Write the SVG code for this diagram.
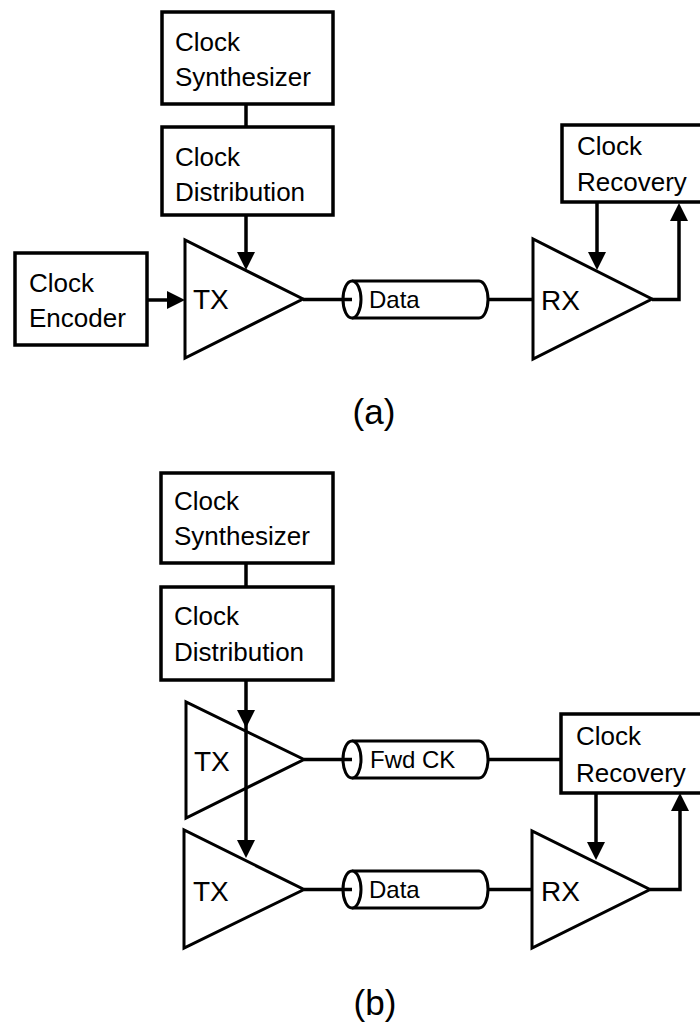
<svg xmlns="http://www.w3.org/2000/svg" width="700" height="1026" viewBox="0 0 700 1026">
<style>
.box{fill:#fff;stroke:#000;stroke-width:3.5}
.amp{fill:#fff;stroke:#000;stroke-width:3;stroke-linejoin:miter}
.ln{fill:none;stroke:#000;stroke-width:3.5}
.cab{fill:#fff;stroke:#000;stroke-width:3}
.t{font-family:"Liberation Sans",Arial,sans-serif;font-size:26px;fill:#000}
.big{font-family:"Liberation Sans",Arial,sans-serif;font-size:28px;fill:#000}
.c{font-family:"Liberation Sans",Arial,sans-serif;font-size:24px;fill:#000}
.lab{font-family:"Liberation Sans",Arial,sans-serif;font-size:35px;fill:#000;text-anchor:middle}
</style>
<defs>
<marker id="ah" markerWidth="18" markerHeight="18" refX="10" refY="9" orient="auto" markerUnits="userSpaceOnUse" viewBox="0 0 18 18"><path d="M0,0 L18,9 L0,18 z" fill="#000"/></marker>
</defs>
<rect width="700" height="1026" fill="#fff"/>

<!-- (a) -->
<g id="a_synth">
<rect class="box" x="162" y="12" width="171" height="92"/>
<text class="t" x="175" y="51">Clock</text>
<text class="t" x="175" y="86">Synthesizer</text>
</g>
<g id="a_dist">
<rect class="box" x="162" y="127" width="171" height="88"/>
<text class="t" x="175" y="166">Clock</text>
<text class="t" x="175" y="201">Distribution</text>
</g>
<g id="a_enc">
<rect class="box" x="15" y="253" width="132" height="92"/>
<text class="t" x="29" y="292">Clock</text>
<text class="t" x="29" y="327">Encoder</text>
</g>
<g id="a_tx">
<polygon class="amp" points="185,240 185,358 303,299"/>
<text class="big" x="193" y="309">TX</text>
</g>
<g id="a_data">
<path class="cab" d="M352,281 H479 A9,18.5 0 0 1 479,318 H352"/>
<ellipse class="cab" cx="352" cy="299.5" rx="9" ry="18.5"/>
<text class="c" x="369" y="308">Data</text>
</g>
<g id="a_rx">
<polygon class="amp" points="533,239 533,359 652,299"/>
<text class="big" x="541" y="310">RX</text>
</g>
<g id="a_rec">
<rect class="box" x="562" y="125" width="150" height="77"/>
<text class="t" x="577" y="155">Clock</text>
<text class="t" x="577" y="191">Recovery</text>
</g>
<text class="lab" x="374" y="424">(a)</text>

<!-- (b) -->
<g id="b_synth">
<rect class="box" x="161" y="473" width="172" height="90"/>
<text class="t" x="174" y="510">Clock</text>
<text class="t" x="174" y="545">Synthesizer</text>
</g>
<g id="b_dist">
<rect class="box" x="161" y="587" width="172" height="93"/>
<text class="t" x="174" y="625">Clock</text>
<text class="t" x="174" y="661">Distribution</text>
</g>
<g id="b_tx1">
<polygon class="amp" points="186,702 186,818 304,759.5"/>
<text class="big" x="194" y="771">TX</text>
</g>
<g id="b_tx2">
<polygon class="amp" points="184,830 184,948 304,889.5"/>
<text class="big" x="193" y="901">TX</text>
</g>
<g id="b_fwd">
<path class="cab" d="M352,741 H479 A9,18.5 0 0 1 479,778 H352"/>
<ellipse class="cab" cx="352" cy="759.5" rx="9" ry="18.5"/>
<text class="c" x="370" y="768">Fwd CK</text>
</g>
<g id="b_data">
<path class="cab" d="M352,871 H479 A9,18.5 0 0 1 479,908 H352"/>
<ellipse class="cab" cx="352" cy="889.5" rx="9" ry="18.5"/>
<text class="c" x="369" y="898">Data</text>
</g>
<g id="b_rec">
<rect class="box" x="561" y="714" width="150" height="79"/>
<text class="t" x="576" y="745">Clock</text>
<text class="t" x="576" y="782">Recovery</text>
</g>
<g id="b_rx">
<polygon class="amp" points="532,831 532,948 650,889.5"/>
<text class="big" x="541" y="901">RX</text>
</g>
<text class="lab" x="375" y="1015">(b)</text>

<g id="connectors">
<line class="ln" x1="246" y1="104" x2="246" y2="127"/>
<line class="ln" x1="246" y1="215" x2="246" y2="262" marker-end="url(#ah)"/>
<line class="ln" x1="147" y1="300" x2="177" y2="300" marker-end="url(#ah)"/>
<line class="ln" x1="303" y1="299.5" x2="352" y2="299.5"/>
<line class="ln" x1="488" y1="299.5" x2="533" y2="299.5"/>
<line class="ln" x1="597" y1="202" x2="597" y2="262" marker-end="url(#ah)"/>
<path class="ln" d="M652,299.5 H679 V211" marker-end="url(#ah)"/>

<line class="ln" x1="246" y1="563" x2="246" y2="587"/>
<line class="ln" x1="246" y1="680" x2="246" y2="720" marker-end="url(#ah)"/>
<line class="ln" x1="246" y1="715" x2="246" y2="850" marker-end="url(#ah)"/>
<line class="ln" x1="304" y1="759.5" x2="352" y2="759.5"/>
<line class="ln" x1="488" y1="759.5" x2="561" y2="759.5"/>
<line class="ln" x1="304" y1="889.5" x2="352" y2="889.5"/>
<line class="ln" x1="488" y1="889.5" x2="532" y2="889.5"/>
<line class="ln" x1="596" y1="793" x2="596" y2="852" marker-end="url(#ah)"/>
<path class="ln" d="M650,889.5 H680 V801" marker-end="url(#ah)"/>
</g>
</svg>
